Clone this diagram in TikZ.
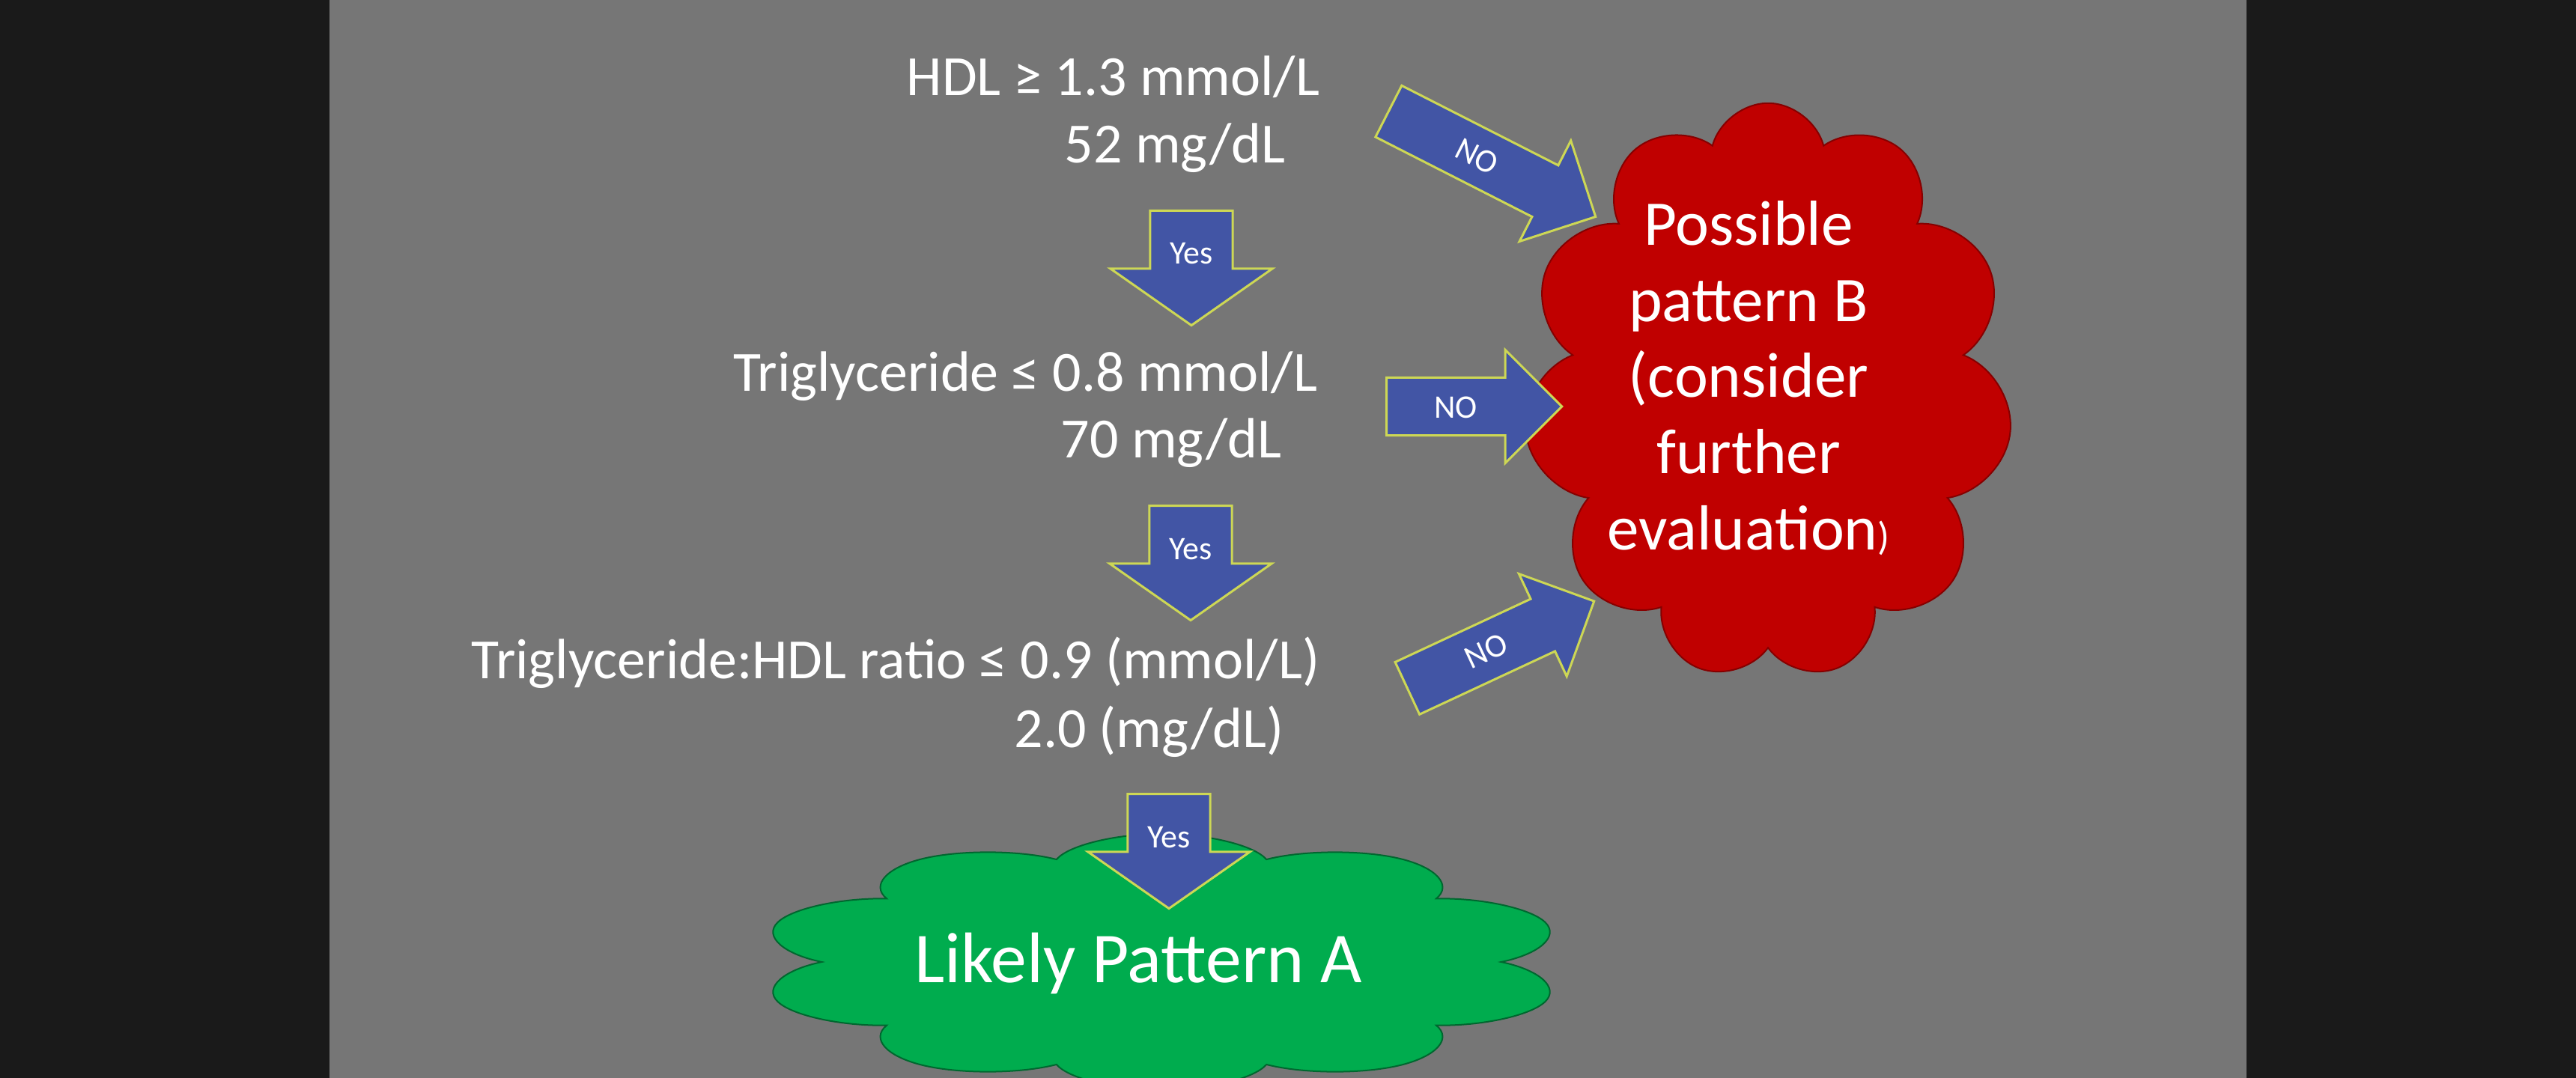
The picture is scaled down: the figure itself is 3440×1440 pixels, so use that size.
\documentclass[tikz,border=0pt]{standalone}
\usepackage{fontspec}
\setmainfont{Carlito}
\usepackage{tikz}
\usetikzlibrary{shapes.arrows,shapes.symbols}

\definecolor{slidegray}{RGB}{118,118,118}
\definecolor{sidebar}{RGB}{26,26,26}
\definecolor{arrowblue}{RGB}{66,85,165}
\definecolor{rimyellow}{RGB}{205,215,85}
\definecolor{cloudred}{RGB}{192,0,0}
\definecolor{cloudgreen}{RGB}{0,172,78}

\begin{document}
\begin{tikzpicture}[x=0.01cm,y=-0.01cm,
  cond/.style={white,inner sep=0pt,anchor=base east,font=\fontsize{21.6pt}{26pt}\selectfont},
  blockarrow/.style={single arrow,fill=arrowblue,draw=rimyellow,line width=0.03cm,inner xsep=0pt,minimum width=0pt,anchor=tail},
  yesarrow/.style={blockarrow,minimum height=1.53cm,inner ysep=0.535cm,single arrow head extend=0.53cm,single arrow tip angle=110,rotate=-90},
  noarrow/.style={blockarrow,inner ysep=0.37cm,single arrow head extend=0.37cm,single arrow tip angle=90},
  tag/.style={white,inner sep=0pt,font=\fontsize{12.5pt}{14pt}\selectfont},
  puffy/.style={cloud,cloud ignores aspect,line width=0.02cm,inner sep=0pt}]
\fill[sidebar] (0,0) rectangle (3440,1440);
\fill[slidegray] (440,0) rectangle (3000,1440);
\useasboundingbox (0,0) rectangle (3440,1440);

% outcomes
\node[puffy,cloud puffs=11,minimum width=6.53cm,minimum height=7.70cm,fill=cloudred,draw=cloudred!70!black] (patB) at (2361,523) {};
\node[puffy,cloud puffs=10,minimum width=3.42cm,minimum height=3.42cm,xscale=3.15,transform shape,fill=cloudgreen,draw=cloudgreen!60!black] (patA) at (1551,1285) {};
\node[white,align=center,inner sep=0pt,font=\fontsize{24.2pt}{28.9pt}\selectfont] (patBtext) at (2335,505)
  {Possible\\pattern B\\(consider\\further\\evaluation{\fontsize{15pt}{15pt}\selectfont)}};
\node[white,anchor=base,inner sep=0pt,font=\fontsize{27.2pt}{33pt}\selectfont] (patAtext) at (1520,1312) {Likely Pattern A};

% tests
\node[cond] (hdl) at (1763,128) {HDL ≥ 1.3 mmol/L};
\node[cond] (hdlmg) at (1717,218) {52 mg/dL};
\node[cond] (tg) at (1760,523) {Triglyceride ≤ 0.8 mmol/L};
\node[cond] (tgmg) at (1712,612) {70 mg/dL};
\node[cond] (ratio) at (1763,906) {Triglyceride:HDL ratio ≤ 0.9 (mmol/L)};
\node[cond] (ratiomg) at (1715,998) {2.0 (mg/dL)};

% yes arrows
\node[yesarrow] (yes1) at (1591,280) {};
\node[tag,anchor=base] (yes1tag) at (1591,353) {Yes};
\node[yesarrow] (yes2) at (1590,674) {};
\node[tag,anchor=base] (yes2tag) at (1590,747) {Yes};
\node[yesarrow] (yes3) at (1561,1059) {};
\node[tag,anchor=base] (yes3tag) at (1561,1132) {Yes};

% no arrows
\node[noarrow,minimum height=3.10cm,rotate=-27] (no1) at (1853,148) {};
\node[tag,rotate=-27] (no1tag) at (1972,209) {NO};
\node[noarrow,minimum height=2.34cm] (no2) at (1850,543) {};
\node[tag] (no2tag) at (1944,544) {NO};
\node[noarrow,minimum height=2.75cm,rotate=25] (no3) at (1878,920) {};
\node[tag,rotate=25] (no3tag) at (1985,870) {NO};
\end{tikzpicture}
\end{document}
